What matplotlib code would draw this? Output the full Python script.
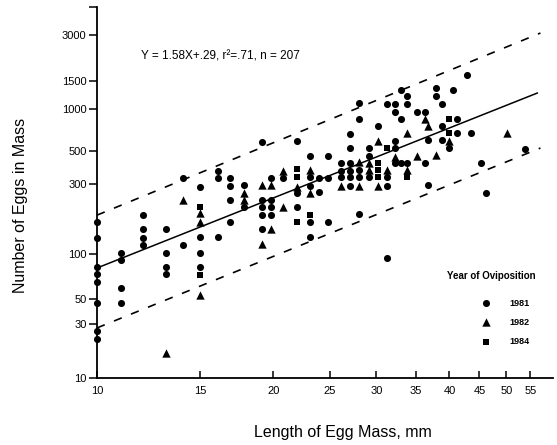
import numpy as np
import matplotlib
matplotlib.use("Agg")
import matplotlib.pyplot as plt
from matplotlib.ticker import NullLocator

plt.rcParams['font.family'] = ['Liberation Sans', 'DejaVu Sans']

# eixo Y do original foi desenhado a mao: as marcas nao seguem um log puro
Y_TICKS = [10, 30, 50, 100, 300, 500, 1000, 1500, 3000]
Y_TICK_HEIGHTS = [0, 54, 79, 124, 194, 227, 269, 297, 343]
Y_AXIS_TOP = 371
X_TICKS = [10, 15, 20, 25, 30, 35, 40, 45, 50, 55]

# (comprimento mm, numero de ovos)
pts_1981 = [
    (10, 166), (10, 129), (10, 82), (10, 73), (10, 65), (10, 46), (10, 26), (10, 22),
    (11, 102), (11, 91), (11, 59), (11, 46),
    (12, 184), (12, 147), (12, 129), (12, 115),
    (13.1, 147), (13.1, 102), (13.1, 82), (13.1, 73),
    (14, 328), (14, 116),
    (15, 288), (15, 131), (15, 102), (15, 82),
    (16.1, 369), (16.1, 328), (16.1, 131),
    (16.9, 328), (16.9, 291), (16.9, 232), (16.9, 164),
    (17.8, 296), (17.8, 208),
    (19.1, 583), (19.1, 233), (19.1, 208), (19.1, 184), (19.1, 147),
    (19.8, 328), (19.8, 233), (19.8, 208), (19.8, 184),
    (20.8, 328),
    (22, 590), (22, 262), (22, 208),
    (23.1, 462), (23.1, 332), (23.1, 291), (23.1, 164), (23.1, 131),
    (23.9, 328), (23.9, 265),
    (24.8, 462), (24.8, 328), (24.8, 164),
    (26.1, 416), (26.1, 369), (26.1, 332),
    (27, 662), (27, 522), (27, 416), (27, 369), (27, 332), (27, 291),
    (28, 1090), (28, 843), (28, 372), (28, 332), (28, 188),
    (29.1, 522), (29.1, 462), (29.1, 332),
    (30.2, 755),
    (31.3, 1070), (31.3, 332), (31.3, 291), (31.3, 94),
    (32.3, 1070), (32.3, 955), (32.3, 593), (32.3, 522), (32.3, 416),
    (33, 1320), (33, 843), (33, 416),
    (33.9, 1200), (33.9, 1070), (33.9, 416),
    (35.2, 955),
    (36.3, 955), (36.3, 416),
    (36.8, 599), (36.8, 296),
    (38, 1350), (38, 1200),
    (38.9, 1070), (38.9, 755), (38.9, 599),
    (40, 522), (40.6, 1320), (41.2, 843), (41.2, 670),
    (42.9, 1640), (43.5, 670), (45.3, 416), (46.1, 262), (53.9, 517),
]

pts_1982 = [
    (13.1, 16.5), (14, 233), (15, 190), (15, 166), (15, 53),
    (17.8, 262), (17.8, 233), (19.1, 296), (19.1, 117), (19.8, 296), (19.8, 147),
    (20.8, 369), (20.8, 210), (22, 288), (23.1, 372), (23.1, 261), (26.1, 291),
    (28, 423), (28, 291), (29.1, 414), (29.1, 372), (30.2, 593), (30.2, 291),
    (31.3, 372), (32.3, 457), (33.9, 676), (33.9, 372), (35.2, 462),
    (36.3, 843), (36.8, 755), (38, 470), (40, 593), (50.2, 670),
]

pts_1984 = [
    (15, 208), (15, 72), (22, 378), (22, 332), (22, 166), (23.1, 184),
    (30.2, 416), (30.2, 372), (30.2, 332), (31.3, 522), (33.9, 332),
    (40, 843), (40, 670),
]

# reta de regressao e limites (tracejado), extremos
fit_x = [10, 56.5]
fit_y = [80.6, 1260]
upper_x = [10, 57.2]
upper_y = [184, 3090]
lower_x = [10, 57.2]
lower_y = [27.7, 525]


def escala_y():
    lt = np.log10(Y_TICKS)
    h = np.array(Y_TICK_HEIGHTS, float)
    lo = h[0] - (h[1] - h[0]) / (lt[1] - lt[0]) * lt[0]
    hi = h[-1] + (h[-1] - h[-2]) / (lt[-1] - lt[-2]) * (4 - lt[-1])
    lt_ext = np.concatenate([[0], lt, [4]])
    h_ext = np.concatenate([[lo], h, [hi]])

    def fwd(v):
        v = np.asarray(v, float)
        lv = np.log10(np.clip(v, 1e-9, None))
        return np.interp(lv, lt_ext, h_ext)

    def inv(p):
        return 10 ** np.interp(p, h_ext, lt_ext)

    return fwd, inv


def main():
    fig = plt.figure(figsize=(5.57, 4.45), dpi=100)
    ax = fig.add_axes([97 / 557, 67 / 445, 456 / 557, 371 / 445])

    fwd, inv = escala_y()
    ax.set_yscale('function', functions=(fwd, inv))
    ax.set_xscale('log')

    x1, y1 = zip(*pts_1981)
    x2, y2 = zip(*pts_1982)
    x4, y4 = zip(*pts_1984)
    h1 = ax.scatter(x1, y1, s=26, marker='o', color='black', lw=0, clip_on=False, zorder=3)
    h2 = ax.scatter(x2, y2, s=36, marker='^', color='black', lw=0, clip_on=False, zorder=3)
    h4 = ax.scatter(x4, y4, s=20, marker='s', color='black', lw=0, clip_on=False, zorder=3)

    ax.plot(fit_x, fit_y, color='black', lw=1.1)
    ax.plot(upper_x, upper_y, color='black', lw=1.2, dashes=(5, 6))
    ax.plot(lower_x, lower_y, color='black', lw=1.2, dashes=(5, 6))

    ax.set_xlim(10, 60.1)
    ax.set_ylim(10, float(inv(Y_AXIS_TOP)))

    ax.set_xticks(X_TICKS, labels=[str(t) for t in X_TICKS])
    ax.xaxis.set_minor_locator(NullLocator())
    ax.set_yticks(Y_TICKS + [float(inv(Y_AXIS_TOP))],
                  labels=[str(t) for t in Y_TICKS] + [''])
    ax.yaxis.set_minor_locator(NullLocator())

    for lado in ['top', 'right']:
        ax.spines[lado].set_visible(False)
    for lado in ['left', 'bottom']:
        ax.spines[lado].set_linewidth(1.3)

    ax.tick_params(axis='y', direction='out', length=6, width=1.1, pad=1.5, labelsize=8)
    ax.tick_params(axis='x', direction='in', length=5, width=1.1, pad=6, labelsize=8)

    ax.set_xlabel("Length of Egg Mass, mm", fontsize=11.5)
    ax.xaxis.set_label_coords(0.539, -0.128)
    ax.set_ylabel("Number of Eggs in Mass", fontsize=11.5)
    ax.yaxis.set_label_coords(-0.151, 0.466)

    ax.text(0.271, 0.866, "Y = 1.58X+.29, r\u00b2=.71, n = 207", transform=ax.transAxes,
            ha='center', va='center', fontsize=8.5)

    ax.text(0.865, 0.276, "Year of Oviposition", transform=ax.transAxes,
            ha='center', va='center', fontsize=7, fontweight='bold')
    ax.legend([h1, h2, h4], ['1981', '1982', '1984'], loc='upper left',
              bbox_to_anchor=(0.834, 0.226), frameon=False, borderpad=0,
              handlelength=1, handletextpad=2.1, labelspacing=1.13,
              scatterpoints=1, prop={'size': 6.5, 'weight': 'bold'})

    fig.savefig("out.png", dpi=100)


if __name__ == "__main__":
    main()
